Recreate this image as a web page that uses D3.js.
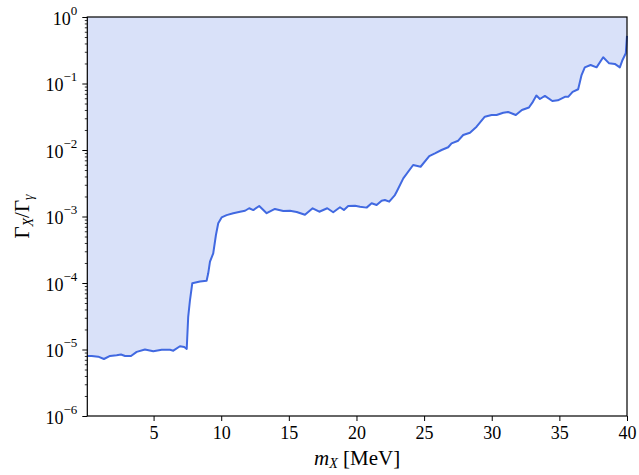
<!DOCTYPE html>
<html>
<head>
<meta charset="utf-8">
<script src="https://cdn.jsdelivr.net/npm/d3@7"></script>
<style>
  body { margin: 0; background: #fff; }
  text { font-family: "Liberation Serif", "DejaVu Serif", serif; fill: #000; }
</style>
</head>
<body>
<div id="chart"></div>
<script>
// mass values (MeV)
const mass = [0.1, 0.43, 0.91, 1.33, 1.78, 2.27, 2.59, 2.89, 3.33, 3.75, 4.36, 4.98, 5.6, 6.21, 6.46,
  6.95, 7.27, 7.45, 7.56, 7.69, 7.86, 8.43, 8.92, 9.04, 9.17, 9.41, 9.61, 9.78, 10.03, 10.4,
  10.89, 11.39, 11.76, 12.07, 12.37, 12.81, 13.36, 13.97, 14.59, 15.08, 15.58, 16.19, 16.76, 17.25, 17.84,
  18.28, 18.78, 19.07, 19.39, 19.89, 20.26, 20.75, 21.12, 21.49, 21.86, 22.1, 22.42, 22.84, 22.97, 23.46,
  24.19, 24.74, 25.38, 25.8, 26.29, 26.78, 27.03, 27.52, 27.89, 28.39, 28.88, 29.49, 29.99, 30.36, 30.85,
  31.21, 31.78, 32.23, 32.75, 33.04, 33.3, 33.56, 33.93, 34.48, 34.89, 35.41, 35.65, 35.98, 36.39, 36.64,
  36.88, 37.31, 37.75, 38.24, 38.68, 39.1, 39.47, 39.67, 39.91, 40];
// upper limit on Gamma_X / Gamma_gamma
const ratio = [8.0e-6, 8.0e-6, 7.8e-6, 7.2e-6, 8.0e-6, 8.2e-6, 8.4e-6, 8.0e-6, 8.0e-6, 9.2e-6, 1.0e-5, 9.4e-6, 9.9e-6, 9.9e-6, 9.6e-6,
  1.12e-5, 1.09e-5, 1.02e-5, 3.1e-5, 5.5e-5, 9.9e-5, 1.05e-4, 1.08e-4, 1.4e-4, 2.09e-4, 2.79e-4, 5.27e-4, 7.9e-4, 9.7e-4, 1.05e-3,
  1.12e-3, 1.18e-3, 1.22e-3, 1.33e-3, 1.25e-3, 1.44e-3, 1.12e-3, 1.30e-3, 1.21e-3, 1.22e-3, 1.17e-3, 1.06e-3, 1.33e-3, 1.18e-3, 1.33e-3,
  1.16e-3, 1.38e-3, 1.25e-3, 1.44e-3, 1.45e-3, 1.40e-3, 1.36e-3, 1.58e-3, 1.49e-3, 1.73e-3, 1.77e-3, 1.67e-3, 2.1e-3, 2.36e-3, 3.75e-3,
  5.95e-3, 5.6e-3, 8.1e-3, 8.9e-3, 1.0e-2, 1.1e-2, 1.26e-2, 1.38e-2, 1.68e-2, 1.82e-2, 2.24e-2, 3.17e-2, 3.36e-2, 3.36e-2, 3.64e-2,
  3.73e-2, 3.36e-2, 4.0e-2, 4.36e-2, 5.3e-2, 6.6e-2, 5.85e-2, 6.5e-2, 5.46e-2, 5.59e-2, 6.3e-2, 6.3e-2, 7.5e-2, 8.2e-2, 0.134,
  0.175, 0.19, 0.175, 0.248, 0.201, 0.197, 0.175, 0.226, 0.285, 0.52];

const xTicks = [5, 10, 15, 20, 25, 30, 35, 40];
const yExps = [-6, -5, -4, -3, -2, -1, 0];

const data = mass.map((m, i) => ({m: m, r: ratio[i]}));

const w = 639, h = 475;
const padL = 87.3, padR = 627, padT = 17, padB = 416;

const xScale = d3.scaleLinear().domain([0.1, 40]).range([padL, padR]);
const yScale = d3.scaleLog().domain([1e-6, 1]).range([padB, padT]);

const svg = d3.select('#chart').append('svg')
  .attr('width', w)
  .attr('height', h);

// shaded excluded region
const area = d3.area()
  .x(d => xScale(d.m))
  .y0(yScale(1))
  .y1(d => yScale(d.r));

svg.append('path')
  .datum(data)
  .attr('d', area)
  .attr('fill', '#d9e1f9');

const line = d3.line()
  .x(d => xScale(d.m))
  .y(d => yScale(d.r));

svg.append('path')
  .datum(data)
  .attr('d', line)
  .attr('fill', 'none')
  .attr('stroke', '#4169e1')
  .attr('stroke-width', 2)
  .attr('stroke-linejoin', 'round');

// x axis
const xAxis = d3.axisBottom(xScale).tickValues(xTicks).tickSize(5).tickPadding(5);
const gx = svg.append('g')
  .attr('transform', 'translate(0,' + padB + ')')
  .call(xAxis);
gx.select('.domain').remove();
gx.selectAll('line').attr('stroke', '#000').attr('stroke-width', 1);
gx.selectAll('text').attr('font-size', 18).attr('font-family', '"Liberation Serif", serif');

// y axis, minor ticks
const minor = [];
yExps.slice(0, -1).forEach(e => {
  for (let k = 2; k <= 9; k++) minor.push(k * Math.pow(10, e));
});
const gyMinor = svg.append('g')
  .attr('transform', 'translate(' + padL + ',0)')
  .call(d3.axisLeft(yScale).tickValues(minor).tickSize(2.5).tickFormat(''));
gyMinor.select('.domain').remove();
gyMinor.selectAll('line').attr('stroke', '#000').attr('stroke-width', 0.8);

// y axis, major ticks
const gy = svg.append('g')
  .attr('transform', 'translate(' + padL + ',0)')
  .call(d3.axisLeft(yScale).tickValues(yExps.map(e => Math.pow(10, e))).tickSize(5).tickPadding(5).tickFormat(''));
gy.select('.domain').remove();
gy.selectAll('line').attr('stroke', '#000').attr('stroke-width', 1);
gy.selectAll('.tick').each(function(d) {
  const e = Math.round(Math.log10(d));
  const t = d3.select(this).select('text')
    .attr('font-size', 18)
    .attr('font-family', '"Liberation Serif", serif')
    .attr('dy', '0.4em');
  t.append('tspan').text('10');
  t.append('tspan')
    .attr('font-size', 13)
    .attr('dy', '-0.75em')
    .text(e === 0 ? '0' : '\u2212' + Math.abs(e));
});

// frame
svg.append('rect')
  .attr('x', padL)
  .attr('y', padT)
  .attr('width', padR - padL)
  .attr('height', padB - padT)
  .attr('fill', 'none')
  .attr('stroke', '#000')
  .attr('stroke-width', 1.2);

// axis labels
const xl = svg.append('text')
  .attr('x', (padL + padR) / 2)
  .attr('y', 465)
  .attr('text-anchor', 'middle')
  .attr('font-size', 21);
xl.append('tspan').attr('font-style', 'italic').text('m');
xl.append('tspan').attr('font-style', 'italic').attr('font-size', 14).attr('dy', 3).text('X');
xl.append('tspan').attr('dy', -3).text(' [MeV]');

const yl = svg.append('text')
  .attr('transform', 'translate(29,' + ((padT + padB) / 2) + ') rotate(-90)')
  .attr('text-anchor', 'middle')
  .attr('font-size', 21);
yl.append('tspan').text('\u0393');
yl.append('tspan').attr('font-style', 'italic').attr('font-size', 14).attr('dy', 4).text('X');
yl.append('tspan').attr('dy', -4).text('/\u0393');
yl.append('tspan').attr('font-style', 'italic').attr('font-size', 14).attr('dy', 4).text('\u03b3');
</script>
</body>
</html>
